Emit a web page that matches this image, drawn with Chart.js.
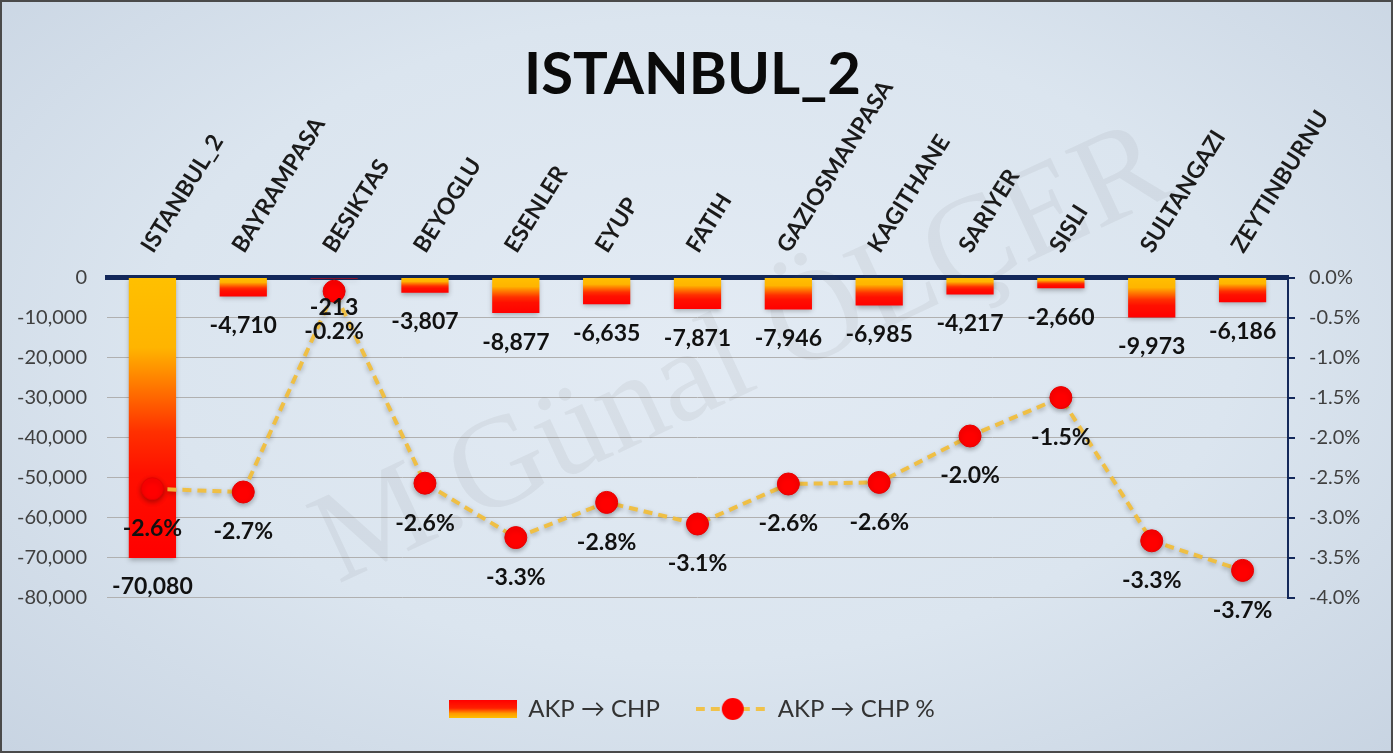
<!DOCTYPE html>
<html>
<head>
<meta charset="utf-8">
<script src="https://cdn.jsdelivr.net/npm/chart.js@4.4.1/dist/chart.umd.min.js"></script>
<style>
html, body { margin: 0; padding: 0; }
#wrap {
    position: absolute; left: 0; top: 0;
    width: 1393px; height: 753px;
    box-sizing: border-box;
    border: 2px solid #4a4a4a;
    background: radial-gradient(ellipse at 50% 45%, #e3ebf4 0%, #dbe5ef 55%, #c8d4e2 100%);
}
canvas { display: block; }
</style>
</head>
<body>
<div id="wrap"><canvas id="myChart" width="1389" height="749"></canvas></div>
<script>
const districts = ['ISTANBUL_2', 'BAYRAMPASA', 'BESIKTAS', 'BEYOGLU', 'ESENLER', 'EYUP', 'FATIH',
    'GAZIOSMANPASA', 'KAGITHANE', 'SARIYER', 'SISLI', 'SULTANGAZI', 'ZEYTINBURNU'];
const voteShift = [-70080, -4710, -213, -3807, -8877, -6635, -7871, -7946, -6985, -4217, -2660, -9973, -6186];
const voteShiftPct = [-2.64, -2.68, -0.17, -2.57, -3.25, -2.81, -3.08, -2.58, -2.56, -1.98, -1.50, -3.29, -3.66];
const seriesNames = ['AKP \u2192 CHP', 'AKP \u2192 CHP %'];

const navy = '#13285a';
Chart.defaults.font.family = 'Lato, "Open Sans", sans-serif';

const ctx = document.getElementById('myChart');

function barGradient(context) {
    const chart = context.chart;
    if (!chart.chartArea || context.type !== 'data') return '#ff1a00';
    const y = chart.scales.y;
    const top = y.getPixelForValue(0);
    const bottom = y.getPixelForValue(context.raw);
    const g = chart.ctx.createLinearGradient(0, top, 0, Math.max(bottom, top + 1));
    g.addColorStop(0, '#ffc000');
    g.addColorStop(0.25, '#ffb400');
    g.addColorStop(0.55, '#ff3000');
    g.addColorStop(0.7, '#ff1000');
    g.addColorStop(1, '#ff0000');
    return g;
}

// legend swatches
function barSwatch() {
    const c = document.createElement('canvas');
    c.width = 68; c.height = 18;
    const x = c.getContext('2d');
    const g = x.createLinearGradient(0, 0, 0, 18);
    g.addColorStop(0, '#ff0000');
    g.addColorStop(0.45, '#ff2000');
    g.addColorStop(0.75, '#ff9a00');
    g.addColorStop(1, '#ffc000');
    x.fillStyle = g;
    x.fillRect(0, 0, 68, 18);
    return c;
}
function lineSwatch() {
    const c = document.createElement('canvas');
    c.width = 74; c.height = 26;
    const x = c.getContext('2d');
    x.strokeStyle = '#f0c24a';
    x.lineWidth = 4;
    x.setLineDash([9, 6]);
    x.beginPath(); x.moveTo(0, 13); x.lineTo(74, 13); x.stroke();
    x.fillStyle = '#ff0000';
    x.beginPath(); x.arc(37, 13, 11, 0, Math.PI * 2); x.fill();
    return c;
}

const shadows = {
    id: 'shadows',
    beforeDatasetDraw(chart) {
        chart.ctx.save();
        chart.ctx.shadowColor = 'rgba(0,0,0,0.3)';
        chart.ctx.shadowBlur = 5;
        chart.ctx.shadowOffsetY = 2;
    },
    afterDatasetDraw(chart) {
        chart.ctx.restore();
    }
};

const watermark = {
    id: 'watermark',
    beforeDatasetsDraw(chart) {
        const a = chart.chartArea;
        const c = chart.ctx;
        c.save();
        c.translate((a.left + a.right) / 2 + 45, (a.top + a.bottom) / 2 - 80);
        c.rotate(-25 * Math.PI / 180);
        c.font = '130px "Liberation Serif", "DejaVu Serif", serif';
        c.fillStyle = 'rgba(80,80,80,0.07)';
        c.textAlign = 'center';
        c.textBaseline = 'middle';
        c.fillText('M.G\u00fcnal \u00d6L\u00c7ER', 0, 0);
        c.restore();
    }
};

const valueLabels = {
    id: 'valueLabels',
    afterDatasetsDraw(chart) {
        const c = chart.ctx;
        c.save();
        c.font = 'bold 23px Lato, sans-serif';
        c.fillStyle = '#111';
        c.textAlign = 'center';
        c.textBaseline = 'middle';
        chart.getDatasetMeta(0).data.forEach((bar, i) => {
            c.fillText(voteShift[i].toLocaleString('en-US'), bar.x, bar.y + 29);
        });
        chart.getDatasetMeta(1).data.forEach((pt, i) => {
            c.fillText(voteShiftPct[i].toFixed(1) + '%', pt.x, pt.y + 40);
        });
        c.restore();
    }
};

new Chart(ctx, {
    type: 'bar',
    data: {
        labels: districts,
        datasets: [{
            type: 'bar',
            label: seriesNames[0],
            data: voteShift,
            backgroundColor: barGradient,
            barPercentage: 0.52,
            categoryPercentage: 1,
            yAxisID: 'y',
            order: 2
        }, {
            type: 'line',
            label: seriesNames[1],
            data: voteShiftPct,
            yAxisID: 'y1',
            borderColor: 'rgba(240,190,60,0.95)',
            borderWidth: 4,
            borderDash: [9, 6],
            pointRadius: 11,
            pointBackgroundColor: '#ff0000',
            pointBorderColor: '#e80000',
            pointBorderWidth: 1,
            tension: 0,
            order: 1
        }]
    },
    options: {
        responsive: false,
        animation: false,
        layout: { padding: { left: 10, right: 18, top: 0, bottom: 20 } },
        scales: {
            x: {
                position: 'top',
                z: 1,
                grid: { display: false, drawTicks: false },
                border: { display: true, color: navy, width: 5 },
                ticks: {
                    autoSkip: false,
                    minRotation: 58,
                    maxRotation: 58,
                    padding: 20,
                    labelOffset: 18,
                    color: '#1a1a1a',
                    font: { size: 23, weight: 'bold' }
                },
                afterFit: function(scale) { scale.height = 208; }
            },
            y: {
                position: 'left',
                min: -80000,
                max: 0,
                ticks: {
                    stepSize: 10000,
                    padding: 20,
                    color: '#404040',
                    font: { size: 20 },
                    callback: v => v.toLocaleString('en-US')
                },
                grid: { color: '#b0b0b0', lineWidth: 1, drawTicks: false },
                border: { display: false },
                afterFit: function(scale) { scale.width = 95; }
            },
            y1: {
                position: 'right',
                min: -4,
                max: 0,
                ticks: {
                    stepSize: 0.5,
                    padding: 14,
                    color: '#404040',
                    font: { size: 20 },
                    callback: v => v.toFixed(1) + '%'
                },
                grid: { drawOnChartArea: false, drawTicks: true, tickLength: 7, color: navy, lineWidth: 2 },
                border: { display: true, color: navy, width: 2 },
                afterFit: function(scale) { scale.width = 85; }
            }
        },
        plugins: {
            title: {
                display: true,
                text: 'ISTANBUL_2',
                color: '#0a0a0a',
                font: { size: 58, weight: 'bold' },
                padding: { top: 38, bottom: -40 }
            },
            legend: {
                position: 'bottom',
                title: { display: true, text: ' ', font: { size: 12 }, padding: { top: 45, bottom: 0 } },
                labels: {
                    usePointStyle: true,
                    pointStyleWidth: 66,
                    padding: 40,
                    color: '#333',
                    font: { size: 24 },
                    generateLabels: function() {
                        return [
                            { text: seriesNames[0], pointStyle: barSwatch(), fillStyle: '#ff0000', lineWidth: 0, hidden: false, datasetIndex: 0, fontColor: '#333' },
                            { text: seriesNames[1], pointStyle: lineSwatch(), fillStyle: '#ff0000', lineWidth: 0, hidden: false, datasetIndex: 1, fontColor: '#333' }
                        ];
                    }
                }
            },
            tooltip: { enabled: false }
        }
    },
    plugins: [watermark, shadows, valueLabels]
});
</script>
</body>
</html>
